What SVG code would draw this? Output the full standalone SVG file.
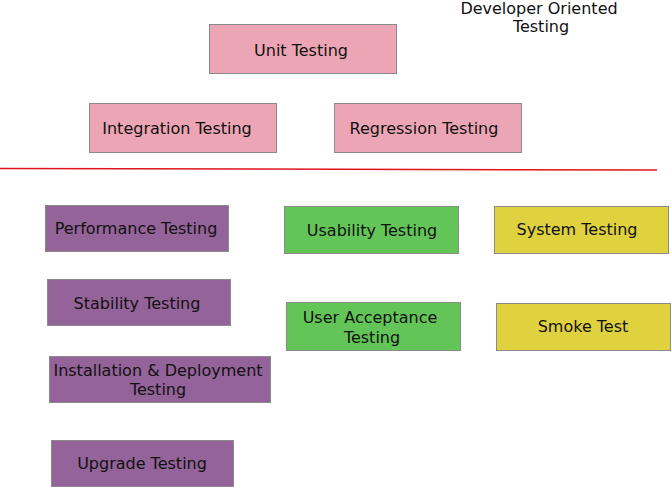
<svg xmlns="http://www.w3.org/2000/svg" width="671" height="487" viewBox="0 0 671 487">
<style>
rect{stroke:#8a8a8a;stroke-width:1}
.pink{fill:#eca5b4}
.purple{fill:#946399}
.green{fill:#63c557}
.yellow{fill:#dfd23e}
text{font-family:"DejaVu Sans",Verdana,sans-serif;font-size:16px;fill:#111;text-anchor:middle;dominant-baseline:central}
</style>
<rect width="671" height="487" fill="#fff" style="stroke:none"/>
<g id="title"><text x="539" y="8">Developer Oriented</text><text x="541" y="26.5">Testing</text></g>
<g id="connectors"><line x1="0" y1="168.5" x2="657" y2="170" stroke="#e0141c" stroke-width="1.5"/></g>
<g id="unit"><rect class="pink" x="209.5" y="24.5" width="187" height="49"/><text x="301" y="50">Unit Testing</text></g>
<g id="integration"><rect class="pink" x="89.5" y="103.5" width="187" height="49"/><text x="177" y="128">Integration Testing</text></g>
<g id="regression"><rect class="pink" x="334.5" y="103.5" width="187" height="49"/><text x="424" y="128">Regression Testing</text></g>
<g id="performance"><rect class="purple" x="45.5" y="205.5" width="183" height="46"/><text x="136" y="228">Performance Testing</text></g>
<g id="stability"><rect class="purple" x="47.5" y="279.5" width="183" height="46"/><text x="137" y="303">Stability Testing</text></g>
<g id="installation"><rect class="purple" x="49.5" y="356.5" width="221" height="46"/><text x="158" y="370">Installation &amp; Deployment</text><text x="158" y="389">Testing</text></g>
<g id="upgrade"><rect class="purple" x="51.5" y="440.5" width="182" height="46"/><text x="142" y="463">Upgrade Testing</text></g>
<g id="usability"><rect class="green" x="284.5" y="206.5" width="174" height="47"/><text x="372" y="230">Usability Testing</text></g>
<g id="uat"><rect class="green" x="286.5" y="302.5" width="174" height="48"/><text x="370" y="317">User Acceptance</text><text x="372" y="337">Testing</text></g>
<g id="system"><rect class="yellow" x="494.5" y="206.5" width="174" height="47"/><text x="577" y="229">System Testing</text></g>
<g id="smoke"><rect class="yellow" x="496.5" y="303.5" width="174" height="47"/><text x="583" y="326">Smoke Test</text></g>
</svg>
